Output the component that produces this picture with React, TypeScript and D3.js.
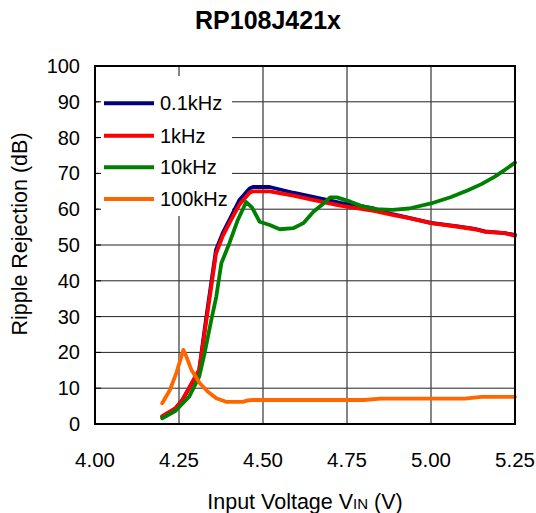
import React from "react";
import * as d3 from "d3";

const title = "RP108J421x";
const xTicks = [4.0, 4.25, 4.5, 4.75, 5.0, 5.25];
const yTicks = [0, 10, 20, 30, 40, 50, 60, 70, 80, 90, 100];

const blueV = [4.20, 4.24, 4.26, 4.31, 4.33, 4.36, 4.38, 4.405, 4.43, 4.46, 4.47, 4.52, 4.59, 4.68, 4.73, 4.83, 4.885, 4.935, 5.0, 5.08, 5.13, 5.16, 5.22, 5.25];
const blueD = [2.0, 4.4, 6.7, 15, 29, 48.6, 53.3, 57.9, 62.6, 65.8, 66.2, 66.2, 64.6, 62.8, 61.8, 60.2, 58.6, 57.6, 56.2, 55.2, 54.5, 53.8, 53.3, 52.8];
const redV = blueV;
const redD = [2.2, 4.4, 6.7, 15, 28, 47.5, 52.5, 57, 61.3, 64.6, 65.0, 65.0, 63.8, 62.0, 61.0, 59.5, 58.4, 57.5, 56.1, 55.1, 54.4, 53.7, 53.3, 52.6];
const greenV = [4.20, 4.24, 4.28, 4.31, 4.326, 4.346, 4.361, 4.376, 4.40, 4.425, 4.45, 4.467, 4.49, 4.52, 4.55, 4.59, 4.62, 4.65, 4.68, 4.70, 4.72, 4.76, 4.79, 4.835, 4.885, 4.935, 5.0, 5.06, 5.11, 5.15, 5.19, 5.22, 5.25];
const greenD = [1.6, 3.7, 7.6, 13.2, 19.7, 29, 35.6, 44.9, 50.5, 57, 62, 60.5, 56.5, 55.6, 54.4, 54.7, 56.1, 59.3, 61.6, 63.3, 63.3, 62.1, 61.0, 60.0, 59.8, 60.2, 61.6, 63.4, 65.3, 67.0, 69.1, 71.0, 73.0];
const orangeV = [4.20, 4.223, 4.242, 4.257, 4.263, 4.272, 4.287, 4.312, 4.336, 4.361, 4.39, 4.44, 4.455, 4.47, 4.80, 4.85, 5.10, 5.15, 5.25];
const orangeD = [5.8, 9.5, 14.2, 18.8, 20.7, 18.8, 15.1, 11.4, 9.0, 7.2, 6.2, 6.2, 6.6, 6.7, 6.7, 7.1, 7.1, 7.6, 7.6];

const seriesNames = ["0.1kHz", "1kHz", "10kHz", "100kHz"];
const seriesColors = ["#000080", "#FF0000", "#008000", "#FF6600"];

export default function App() {
  const W = 536, H = 513;
  const left = 95, right = 515, top = 66, bottom = 424;
  const x = d3.scaleLinear().domain([4.0, 5.25]).range([left, right]);
  const y = d3.scaleLinear().domain([0, 100]).range([bottom, top]);
  const line = d3.line<[number, number]>().x(d => x(d[0])).y(d => y(d[1]));
  const series: [number[], number[]][] = [[blueV, blueD], [redV, redD], [greenV, greenD], [orangeV, orangeD]];
  const font = "'Liberation Sans', Arial, sans-serif";
  const legendY = [103.3, 135.7, 167.3, 199];

  return (
    <svg width={W} height={H} style={{ position: "absolute", left: 0, top: 0, background: "#fff" }} fontFamily={font}>
      <rect x={0} y={0} width={W} height={H} fill="#fff" />
      <text x={268} y={29} textAnchor="middle" fontSize={25} fontWeight="bold">{title}</text>
      {yTicks.map(t => (
        <line key={"h" + t} x1={left} x2={right} y1={y(t)} y2={y(t)} stroke="#222" strokeWidth={1} />
      ))}
      {xTicks.map(t => (
        <line key={"v" + t} x1={x(t)} x2={x(t)} y1={top} y2={bottom} stroke="#444" strokeWidth={1.3} />
      ))}
      <rect x={99} y={76} width={133} height={140} fill="#fff" />
      {yTicks.map(t => (
        <line key={"tk" + t} x1={left} x2={left + 6} y1={y(t)} y2={y(t)} stroke="#000" strokeWidth={1} />
      ))}
      {series.map(([vs, ds], i) => (
        <path key={"s" + i} d={line(vs.map((v, j) => [v, ds[j]] as [number, number])) || ""} fill="none"
          stroke={seriesColors[i]} strokeWidth={3.8} strokeLinejoin="round" strokeLinecap="round" />
      ))}
      <rect x={left} y={top} width={right - left} height={bottom - top} fill="none" stroke="#000" strokeWidth={2} />
      {seriesNames.map((n, i) => (
        <g key={"lg" + i}>
          <line x1={104} x2={154} y1={legendY[i]} y2={legendY[i]} stroke={seriesColors[i]} strokeWidth={4} />
          <text x={160} y={legendY[i] + 7} fontSize={20}>{n}</text>
        </g>
      ))}
      {yTicks.map(t => (
        <text key={"yl" + t} x={80} y={y(t) + 7} textAnchor="end" fontSize={20}>{t}</text>
      ))}
      {xTicks.map(t => (
        <text key={"xl" + t} x={x(t)} y={467} textAnchor="middle" fontSize={20.5}>{t.toFixed(2)}</text>
      ))}
      <text x={305} y={509} textAnchor="middle" fontSize={21.5}>
        Input Voltage V<tspan fontSize={15}>IN</tspan> (V)
      </text>
      <text transform={`translate(27,234) rotate(-90)`} textAnchor="middle" fontSize={21.5}>Ripple Rejection (dB)</text>
    </svg>
  );
}
